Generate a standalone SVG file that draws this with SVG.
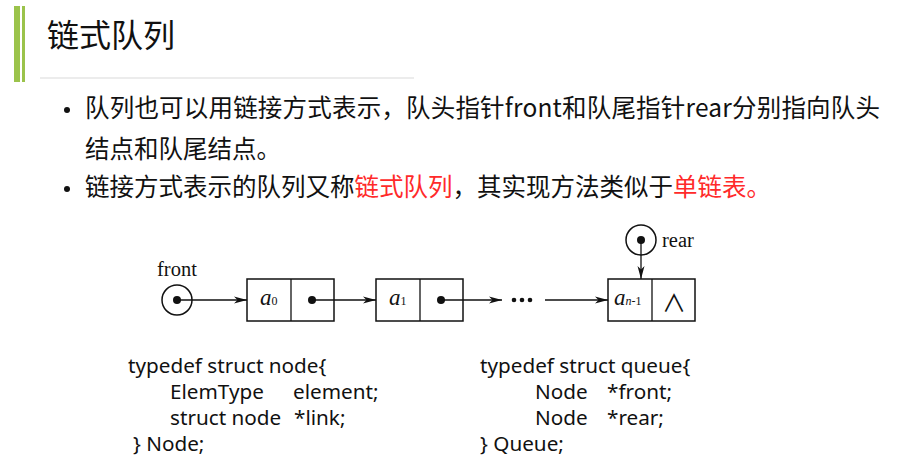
<svg xmlns="http://www.w3.org/2000/svg" width="914" height="472" viewBox="0 0 914 472">
<style>
.cjk{font-family:"Noto Sans CJK SC","Noto Sans",sans-serif;fill:#111}
.red{fill:#ff2a2a}
.code{font-family:"Noto Sans","Open Sans",sans-serif;font-size:20.7px;fill:#111}
.serif{font-family:"Liberation Serif","Times New Roman",serif;fill:#111}
.box{fill:none;stroke:#111;stroke-width:1.5}
.ln{stroke:#111;stroke-width:1.3;fill:none}
</style>
<defs>
<marker id="arr" markerWidth="14" markerHeight="8" refX="13" refY="4" orient="auto" markerUnits="userSpaceOnUse">
<path d="M0,0.5 L13,4 L0,7.5 L3.5,4 z" fill="#111"/>
</marker>
</defs>
<g id="header">
<rect x="14" y="6" width="6" height="76" fill="#9bc34b"/>
<rect x="22" y="6" width="3" height="76" fill="#9bc34b"/>
<text x="47" y="47" class="cjk" font-size="32">链式队列</text>
<line x1="40" y1="78" x2="414" y2="78" stroke="#e6e6e6" stroke-width="1.5"/>
</g>
<g id="bullets">
<circle cx="67" cy="110" r="3" fill="#111"/>
<text x="85" y="117" class="cjk" font-size="24.5" textLength="795" lengthAdjust="spacing">队列也可以用链接方式表示，队头指针front和队尾指针rear分别指向队头</text>
<text x="85" y="158" class="cjk" font-size="24.5">结点和队尾结点。</text>
<circle cx="67" cy="189" r="3" fill="#111"/>
<text x="85" y="196" class="cjk" font-size="24.5">链接方式表示的队列又称<tspan class="red">链式队列</tspan>，其实现方法类似于<tspan class="red">单链表。</tspan></text>
</g>
<g id="front">
<text x="157" y="276" class="serif" font-size="20.5">front</text>
<circle cx="177" cy="300" r="15" class="box"/>
<circle cx="177" cy="300" r="4" fill="#111"/>
</g>
<g id="rear">
<text x="662" y="247" class="serif" font-size="20.5">rear</text>
<circle cx="641" cy="240" r="15" class="box"/>
<circle cx="641" cy="240" r="4" fill="#111"/>
</g>
<g id="node0">
<rect x="247" y="279" width="87" height="42" class="box"/>
<line x1="291" y1="279" x2="291" y2="321" class="ln" stroke-width="1.5"/>
<text x="260" y="305" class="serif" font-size="23" font-style="italic">a<tspan font-size="12" font-style="normal">0</tspan></text>
<circle cx="312" cy="300" r="4" fill="#111"/>
</g>
<g id="node1">
<rect x="376" y="279" width="87" height="42" class="box"/>
<line x1="420" y1="279" x2="420" y2="321" class="ln" stroke-width="1.5"/>
<text x="389" y="305" class="serif" font-size="23" font-style="italic">a<tspan font-size="12" font-style="normal">1</tspan></text>
<circle cx="441" cy="300" r="4" fill="#111"/>
</g>
<g id="ellipsis">
<circle cx="514" cy="300" r="2.3" fill="#111"/>
<circle cx="522" cy="300" r="2.3" fill="#111"/>
<circle cx="530" cy="300" r="2.3" fill="#111"/>
</g>
<g id="noden">
<rect x="608" y="279" width="87" height="42" class="box"/>
<line x1="652" y1="279" x2="652" y2="321" class="ln" stroke-width="1.5"/>
<text x="614" y="305" class="serif" font-size="23" font-style="italic">a<tspan font-size="12">n</tspan><tspan font-size="12" font-style="normal">-1</tspan></text>
<text x="674" y="312" font-size="24" text-anchor="middle" style="font-family:'Noto Sans CJK SC','DejaVu Sans',sans-serif;font-weight:400;fill:#111">∧</text>
</g>
<g id="connectors">
<line x1="177" y1="300" x2="247" y2="300" class="ln" marker-end="url(#arr)"/>
<line x1="312" y1="300" x2="376" y2="300" class="ln" marker-end="url(#arr)"/>
<line x1="441" y1="300" x2="502" y2="300" class="ln" marker-end="url(#arr)"/>
<line x1="545" y1="300" x2="608" y2="300" class="ln" marker-end="url(#arr)"/>
<line x1="641" y1="240" x2="641" y2="279" class="ln" marker-end="url(#arr)"/>
</g>
<g id="code-node">
<text x="128" y="373" class="code">typedef struct node{</text>
<text x="170" y="399" class="code">ElemType</text>
<text x="293" y="399" class="code">element;</text>
<text x="170" y="425" class="code">struct node</text>
<text x="294" y="425" class="code">*link;</text>
<text x="133" y="451" class="code">} Node;</text>
</g>
<g id="code-queue">
<text x="480" y="373" class="code">typedef struct queue{</text>
<text x="535" y="399" class="code">Node</text>
<text x="607" y="399" class="code">*front;</text>
<text x="535" y="425" class="code">Node</text>
<text x="607" y="425" class="code">*rear;</text>
<text x="480" y="451" class="code">} Queue;</text>
</g>
</svg>
